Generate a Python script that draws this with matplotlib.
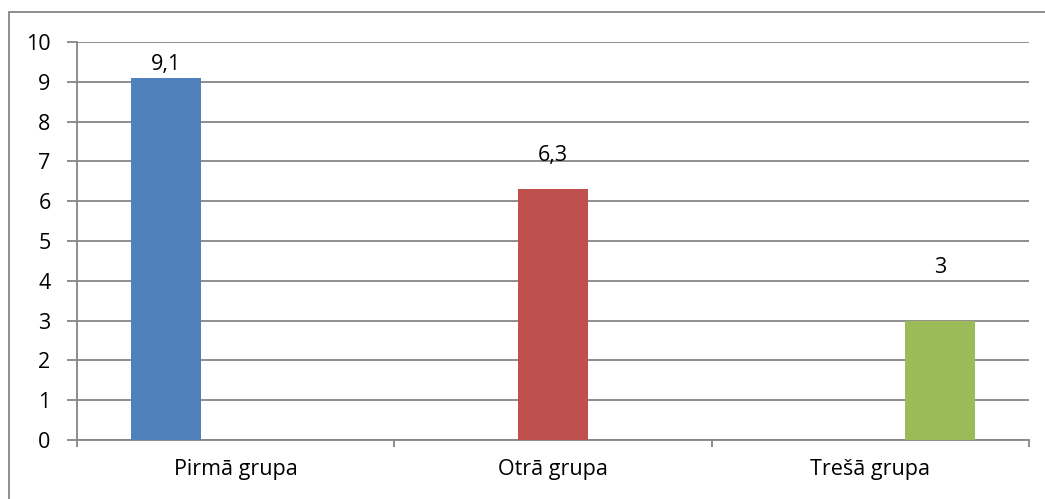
import matplotlib.pyplot as plt
import numpy as np
from matplotlib.patches import Rectangle

categories = ["Pirmā grupa", "Otrā grupa", "Trešā grupa"]
series_values = [
    [9.1, 0, 0],
    [0, 6.3, 0],
    [0, 0, 3],
]
labels = ["9,1", "6,3", "3"]
colors = ["#4F81BD", "#C0504D", "#9BBB59"]
# label centre offsets above bar top (pixels), the original has them placed by hand
label_offsets = [13, 34, 53]

plt.rcParams['font.family'] = ['Open Sans', 'DejaVu Sans']

fig = plt.figure(figsize=(10.45, 4.99), dpi=100)
# outer chart border
fig.patches.append(Rectangle((9 / 1045, -0.01), 1.0, 1.01 - 12 / 499, transform=fig.transFigure,
                             fill=False, edgecolor="#868686", linewidth=1.3))

ax = fig.add_axes([77 / 1045, 59 / 499, 952 / 1045, 398 / 499])

x = np.arange(len(categories))
width = 0.22
for i, vals in enumerate(series_values):
    ax.bar(x + (i - 1) * width, vals, width=width, color=colors[i], zorder=3)
    # only the one non-zero bar gets a label
    ax.annotate(labels[i], xy=(x[i] + (i - 1) * width, vals[i]), xytext=(0, label_offsets[i] * 0.72),
                textcoords="offset points", ha="center", va="center", fontsize=15.5)

ax.set_xlim(-0.5, 2.5)
ax.set_ylim(0, 10)
ax.set_yticks(range(0, 11))
ax.set_xticks([-0.5, 0.5, 1.5, 2.5])
ax.set_xticklabels([])
ax.set_xticks(x, minor=True)
ax.set_xticklabels(categories, minor=True)
ax.tick_params(axis="x", which="minor", length=0, pad=14, labelsize=15.5)
ax.tick_params(axis="x", which="major", length=5, color="#868686", width=1.3)
ax.tick_params(axis="y", length=7, color="#868686", width=1.3, labelsize=15.5, pad=12)

ax.grid(axis="y", color="#868686", linewidth=1.3, zorder=0)
for s in ["top", "right"]:
    ax.spines[s].set_visible(False)
for s in ["left", "bottom"]:
    ax.spines[s].set_color("#868686")
    ax.spines[s].set_linewidth(1.3)

fig.savefig("out.png", dpi=100)
